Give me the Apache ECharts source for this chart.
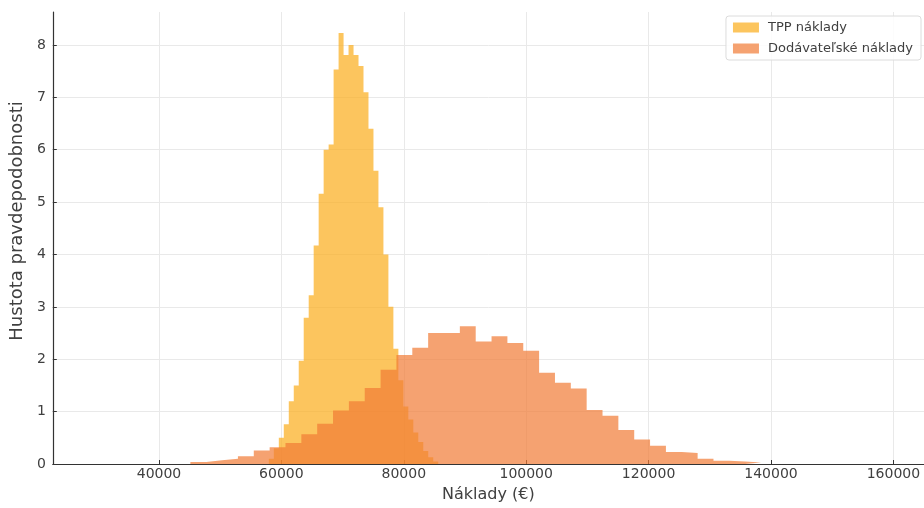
<!DOCTYPE html>
<html>
<head>
<meta charset="utf-8">
<script src="https://cdn.jsdelivr.net/npm/echarts@6/dist/echarts.min.js"></script>
<style>
  html, body { margin: 0; padding: 0; background: #fff; }
  #chart { width: 924px; height: 508px; }
</style>
</head>
<body>
<div id="chart"></div>
<script>
// Histogram of simulated costs, densities in units of 1e-5 per €
const seriesNames = ['TPP náklady', 'Dodávateľské náklady'];

// TPP costs: first bin edge, bin width (€), density per bin
const tppBinStart = 57950;
const tppBinWidth = 814;
const tppDensity = [
  0.10, 0.30, 0.50, 0.76, 1.20, 1.50, 1.97, 2.79, 3.22, 4.17,
  5.16, 6.00, 6.10, 7.53, 8.23, 7.81, 8.00, 7.81, 7.60, 7.10,
  6.40, 5.60, 4.90, 4.00, 3.00, 2.20, 1.60, 1.10, 0.85, 0.60,
  0.42, 0.25, 0.13, 0.05
];

// Supplier costs: first bin edge, bin width (€), density per bin
const supBinStart = 45130;
const supBinWidth = 2590;
const supDensity = [
  0.04, 0.07, 0.10, 0.15, 0.26, 0.32, 0.40, 0.57, 0.77, 1.02,
  1.20, 1.45, 1.80, 2.08, 2.22, 2.50, 2.50, 2.63, 2.34, 2.44,
  2.31, 2.16, 1.74, 1.55, 1.44, 1.03, 0.92, 0.65, 0.47, 0.35,
  0.23, 0.21, 0.10, 0.06, 0.05, 0.03
];

const xTicks = [40000, 60000, 80000, 100000, 120000, 140000, 160000];
const yTicks = [0, 1, 2, 3, 4, 5, 6, 7, 8];

const colors = ['rgba(251,172,25,0.7)', 'rgba(241,122,52,0.7)'];

// Left edge of each bin with its height, closed by the right edge at zero
function histSteps(start, width, heights) {
  const pts = heights.map((h, i) => [start + i * width, h]);
  pts.push([start + heights.length * width, 0]);
  return pts;
}

function histSeries(name, color, pts) {
  return {
    name: name,
    type: 'line',
    step: 'end',
    data: pts,
    showSymbol: false,
    symbol: 'none',
    lineStyle: { width: 0, color: color },
    itemStyle: { color: color },
    areaStyle: { color: color, opacity: 1 },
    emphasis: { disabled: true },
    silent: true
  };
}

const font = 'DejaVu Sans';
const textColor = '#404040';

const chart = echarts.init(document.getElementById('chart'), null, { renderer: 'canvas' });
chart.setOption({
  animation: false,
  backgroundColor: '#ffffff',
  textStyle: { fontFamily: font },
  grid: { left: 50, right: 0, top: 12, bottom: 41, containLabel: false },
  legend: {
    orient: 'vertical',
    right: 3,
    top: 16,
    padding: [5, 8, 5, 7],
    itemGap: 8,
    itemWidth: 26,
    itemHeight: 10,
    icon: 'rect',
    borderColor: '#dcdcdc',
    borderWidth: 1,
    borderRadius: 3,
    backgroundColor: 'rgba(255,255,255,0.85)',
    textStyle: { fontFamily: font, fontSize: 13, color: textColor, padding: [0, 0, 0, 4] },
    data: seriesNames.map((n, i) => ({ name: n, icon: 'rect', itemStyle: { color: colors[i] } }))
  },
  xAxis: {
    type: 'value',
    min: 22650,
    max: 165000,
    minInterval: 20000,
    maxInterval: 20000,
    splitNumber: 7,
    name: 'Náklady (€)',
    nameLocation: 'middle',
    nameGap: 23,
    nameTextStyle: { fontFamily: font, fontSize: 16, color: textColor },
    axisLine: { show: true, lineStyle: { color: '#333', width: 1.2 } },
    axisTick: { show: true, inside: true, length: 4, lineStyle: { color: '#333' },
      customValues: xTicks },
    axisLabel: { fontFamily: font, fontSize: 14, color: textColor, margin: 3,
      customValues: xTicks, formatter: v => String(v) },
    splitLine: { show: true, lineStyle: { color: '#e9e9e9', width: 1 } }
  },
  yAxis: {
    type: 'value',
    min: 0,
    max: 8.63,
    interval: 1,
    name: 'Hustota pravdepodobnosti',
    nameLocation: 'middle',
    nameGap: 21,
    nameTextStyle: { fontFamily: font, fontSize: 18, color: textColor, padding: [0, 0, 0, 34] },
    axisLine: { show: true, lineStyle: { color: '#333', width: 1.2 } },
    axisTick: { show: true, inside: true, length: 4, lineStyle: { color: '#333' },
      customValues: yTicks },
    axisLabel: { fontFamily: font, fontSize: 14, color: textColor, margin: 7,
      customValues: yTicks, formatter: v => String(v) },
    splitLine: { show: true, lineStyle: { color: '#e9e9e9', width: 1 } }
  },
  series: [
    histSeries(seriesNames[0], colors[0], histSteps(tppBinStart, tppBinWidth, tppDensity)),
    histSeries(seriesNames[1], colors[1], histSteps(supBinStart, supBinWidth, supDensity))
  ]
});
</script>
</body>
</html>
